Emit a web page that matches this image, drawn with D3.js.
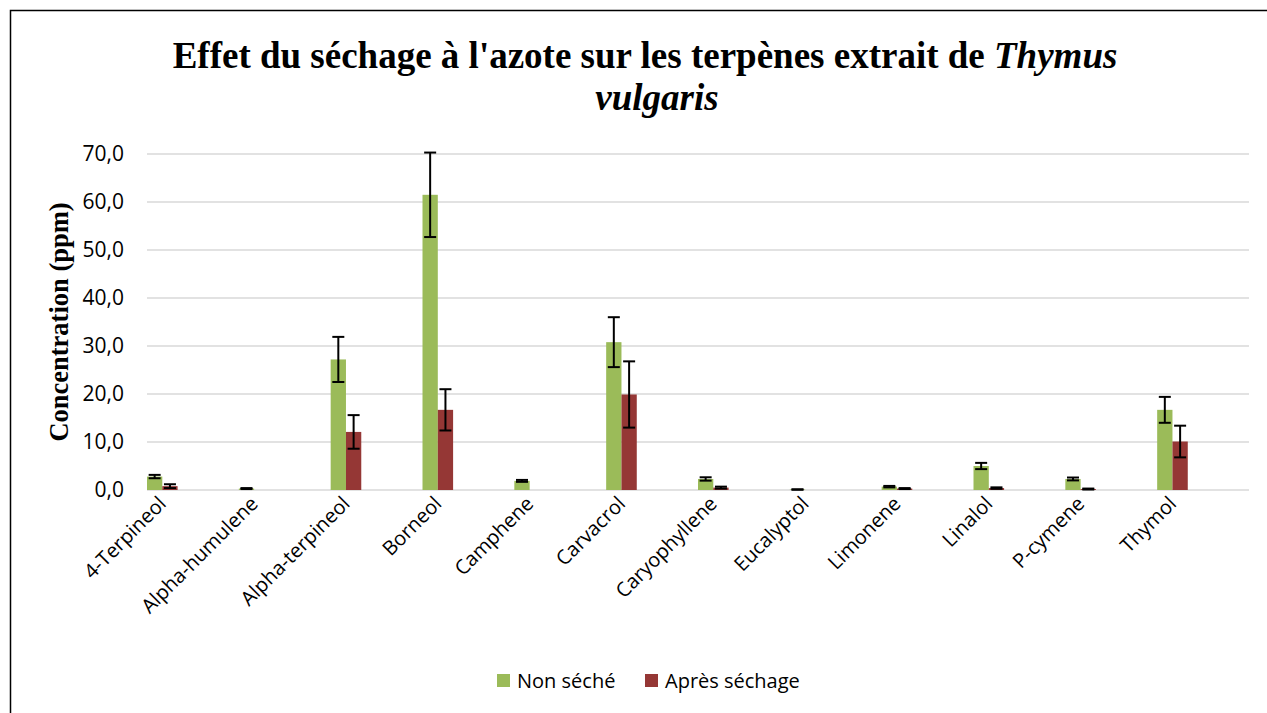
<!DOCTYPE html>
<html>
<head>
<meta charset="utf-8">
<script src="https://cdn.jsdelivr.net/npm/d3@7"></script>
<style>
  body { margin: 0; background: #fff; }
  .tick-label { font-family: "Open Sans", "Noto Sans", sans-serif; font-size: 20px; fill: #000; }
</style>
</head>
<body>
<svg id="chart" width="1267" height="713"></svg>
<script>
// Chart data
const categories = ["4-Terpineol", "Alpha-humulene", "Alpha-terpineol", "Borneol", "Camphene",
  "Carvacrol", "Caryophyllene", "Eucalyptol", "Limonene", "Linalol", "P-cymene", "Thymol"];
const nonSeche = [2.8, 0.3, 27.2, 61.5, 1.9, 30.8, 2.3, 0.1, 0.7, 5.0, 2.3, 16.7];
const nonSecheErr = [0.35, 0.1, 4.7, 8.8, 0.2, 5.2, 0.35, 0.05, 0.15, 0.65, 0.3, 2.7];
const apresSechage = [0.8, 0, 12.1, 16.7, 0, 19.9, 0.5, 0, 0.3, 0.4, 0.2, 10.1];
const apresErr = [0.4, 0, 3.5, 4.3, 0, 6.9, 0.2, 0, 0.1, 0.15, 0.1, 3.3];
const seriesNames = ["Non séché", "Après séchage"];
const seriesColors = ["#9bbb59", "#953735"];
const yTicks = [0, 10, 20, 30, 40, 50, 60, 70];

const svg = d3.select("#chart");
const plot = { left: 147, right: 1249, top: 154, bottom: 490 };

// outer chart border
svg.append("rect")
  .attr("x", 10.5).attr("y", 10.5)
  .attr("width", 1300).attr("height", 750)
  .attr("fill", "none").attr("stroke", "#000").attr("stroke-width", 1.5);

// Title
const title = svg.append("text")
  .attr("text-anchor", "middle")
  .attr("font-family", "'Liberation Serif', 'Times New Roman', serif")
  .attr("font-weight", "bold")
  .attr("font-size", "37px");
const t1 = title.append("tspan").attr("x", 645).attr("y", 68);
t1.append("tspan").text("Effet du séchage à l'azote sur les terpènes extrait de ");
t1.append("tspan").attr("font-style", "italic").text("Thymus");
title.append("tspan").attr("x", 657).attr("y", 110)
  .attr("font-style", "italic").text("vulgaris");

// Scales
const x = d3.scaleBand().domain(categories).range([plot.left, plot.right]);
const barW = 15.3;
const y = d3.scaleLinear().domain([0, 70]).range([plot.bottom, plot.top]);

// Gridlines
svg.append("g").selectAll("line").data(yTicks).join("line")
  .attr("x1", plot.left).attr("x2", plot.right)
  .attr("y1", d => y(d)).attr("y2", d => y(d))
  .attr("stroke", "#d9d9d9").attr("stroke-width", 1.5);

// Y tick labels
svg.append("g").selectAll("text").data(yTicks).join("text")
  .attr("class", "tick-label")
  .style("font-size", "21px")
  .attr("x", 124).attr("y", d => y(d)).attr("dy", "0.35em")
  .attr("text-anchor", "end")
  .text(d => d.toFixed(1).replace(".", ","));

// Y axis title
svg.append("text")
  .attr("transform", "translate(68," + ((plot.top + plot.bottom) / 2) + ") rotate(-90)")
  .attr("text-anchor", "middle")
  .attr("font-family", "'Liberation Serif', 'Times New Roman', serif")
  .attr("font-weight", "bold")
  .attr("font-size", "26.5px")
  .text("Concentration (ppm)");

// Bars
const series = [
  { vals: nonSeche, errs: nonSecheErr },
  { vals: apresSechage, errs: apresErr }
];
series.forEach((s, si) => {
  const g = svg.append("g");
  g.selectAll("rect").data(categories).join("rect")
    .attr("x", d => x(d) + si * barW)
    .attr("width", barW)
    .attr("y", (d, i) => y(s.vals[i]))
    .attr("height", (d, i) => y(0) - y(s.vals[i]))
    .attr("fill", seriesColors[si]);
});

// Error bars
series.forEach((s, si) => {
  const g = svg.append("g").attr("stroke", "#000").attr("stroke-width", 2);
  categories.forEach((c, i) => {
    if (s.vals[i] <= 0) return;
    const cx = x(c) + si * barW + barW / 2;
    const lo = Math.max(0, s.vals[i] - s.errs[i]);
    const hi = s.vals[i] + s.errs[i];
    g.append("line").attr("x1", cx).attr("x2", cx).attr("y1", y(lo)).attr("y2", y(hi));
    g.append("line").attr("x1", cx - 6).attr("x2", cx + 6).attr("y1", y(lo)).attr("y2", y(lo));
    g.append("line").attr("x1", cx - 6).attr("x2", cx + 6).attr("y1", y(hi)).attr("y2", y(hi));
  });
});

// X labels, rotated
svg.append("g").selectAll("text").data(categories).join("text")
  .attr("class", "tick-label")
  .attr("text-anchor", "end")
  .attr("transform", d => "translate(" + (x(d) + barW + 5) + "," + (plot.bottom + 15) + ") rotate(-45)")
  .text(d => d);

// Legend
const legend = svg.append("g");
const legendX = [497, 645];
seriesNames.forEach((n, i) => {
  legend.append("rect")
    .attr("x", legendX[i]).attr("y", 674)
    .attr("width", 13).attr("height", 13)
    .attr("fill", seriesColors[i]);
  legend.append("text")
    .attr("class", "tick-label")
    .attr("x", legendX[i] + 20).attr("y", 681).attr("dy", "0.35em")
    .text(n);
});
</script>
</body>
</html>
